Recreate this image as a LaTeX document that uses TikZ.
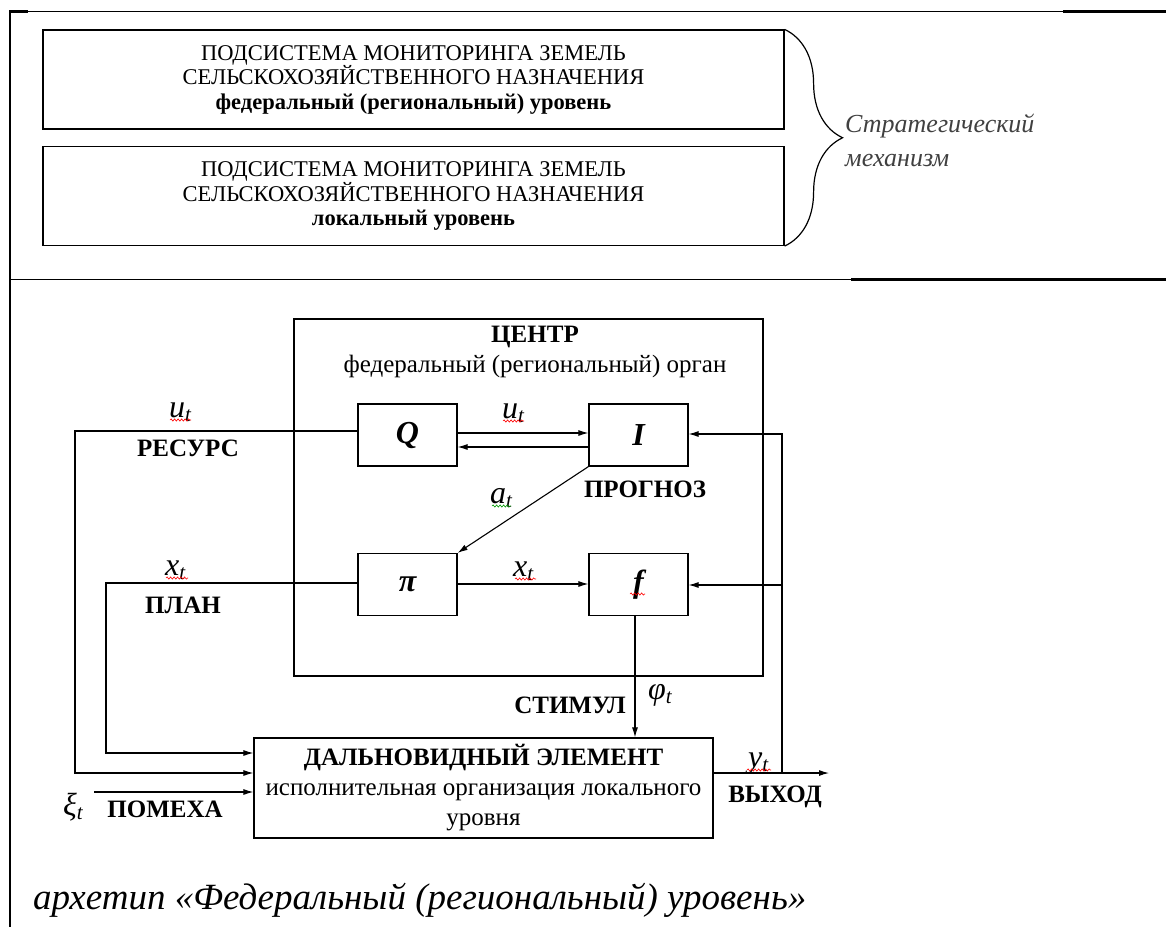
\documentclass[tikz,border=0pt]{standalone}
\usepackage{fontspec}
\setmainfont{Liberation Serif}
\usetikzlibrary{arrows.meta,decorations.pathreplacing,decorations.pathmorphing}

\newcommand{\fsz}[2]{\fontsize{#1}{#2}\selectfont}
% letter with subscript t
\newcommand{\vart}[1]{\fsz{32}{32}\textit{#1}\raisebox{-0.3ex}{\fsz{21}{21}\textit{t}}}

\tikzset{
  blk/.style={draw, line width=1.2pt, inner sep=0pt},
  subbox/.style={blk, minimum width=741, minimum height=99, align=center, font=\fsz{22.5}{24.5}},
  opbox/.style={blk, minimum width=99, minimum height=62, font=\fsz{32}{32}\bfseries\itshape},
  tag/.style={font=\fsz{25}{25}\bfseries, inner sep=0pt},
  lab/.style={anchor=base west, inner sep=0pt},
  conn/.style={line width=1.1pt},
  arr/.style={conn, -{Latex[length=10pt,width=6pt]}},
  squig/.style={decorate, decoration={snake, amplitude=1.1pt, segment length=3.5pt}, line width=0.6pt},
}

\begin{document}
\begin{tikzpicture}[x=1pt, y=-1pt]
  \useasboundingbox (0,0) rectangle (1166,927);

  % table borders
  \draw[line width=1pt] (10,11) -- (1166,11);
  \draw[line width=3pt] (9,11) -- (28,11);
  \draw[line width=3pt] (1063,11) -- (1166,11);
  \draw[line width=2pt] (10,10) -- (10,927);
  \draw[line width=1pt] (10,279) -- (851,279);
  \draw[line width=3pt] (851,279) -- (1166,279);

  % strategic level
  \node[subbox] (sub1) at (413.5,79.5) {ПОДСИСТЕМА МОНИТОРИНГА ЗЕМЕЛЬ\\СЕЛЬСКОХОЗЯЙСТВЕННОГО НАЗНАЧЕНИЯ\\\textbf{федеральный (региональный) уровень}};
  \node[subbox] (sub2) at (413.5,196) {ПОДСИСТЕМА МОНИТОРИНГА ЗЕМЕЛЬ\\СЕЛЬСКОХОЗЯЙСТВЕННОГО НАЗНАЧЕНИЯ\\\textbf{локальный уровень}};
  \draw[line width=1.2pt, decorate, decoration={brace, amplitude=58pt}] (sub1.north east) -- (sub2.south east);
  \node[anchor=west, align=left, inner sep=0pt, text=black!75, font=\fsz{26}{34}\itshape] (strat) at (845,140) {Стратегический\\механизм};

  % centre
  \node[blk, minimum width=469, minimum height=357] (centr) at (528.5,497.5) {};
  \node[align=center, inner sep=0pt, font=\fsz{25}{30}] (centrt) at (535,352) {\textbf{ЦЕНТР}\\федеральный (региональный) орган};
  \node[opbox] (q) at (407.5,435) {Q};
  \node[opbox] (ii) at (638.5,435) {I};
  \node[opbox] (pi) at (407.5,584.5) {π};
  \node[opbox] (f) at (638.5,584.5) {f};

  % element
  \node[blk, minimum width=459, minimum height=100, align=center, font=\fsz{25}{30}] (elem) at (483.5,788)
    {\textbf{ДАЛЬНОВИДНЫЙ ЭЛЕМЕНТ}\\исполнительная организация локального\\уровня};

  \coordinate (res) at (75,431);
  \coordinate (pln) at (106,583);
  \coordinate (noise) at (94,792);
  \coordinate (out) at (829,773);
  \coordinate (fb) at (782,773);

  % connectors
  \draw[arr] (q.east |- 0,433) -- (ii.west |- 0,433);
  \draw[arr] (ii.west |- 0,447) -- (q.east |- 0,447);
  \draw[arr] (ii.south west) -- (pi.north east);
  \draw[arr] (pi.east |- 0,584) -- (f.west |- 0,584);
  \draw[arr] (f.south -| 635,0) -- (elem.north -| 635,0);
  \draw[arr] (q.west |- res) -- (res) -- (res |- 0,773) -- (elem.west |- 0,773);
  \draw[arr] (pi.west |- pln) -- (pln) -- (pln |- 0,753) -- (elem.west |- 0,753);
  \draw[arr] (noise) -- (elem.west |- noise);
  \draw[arr] (elem.east |- out) -- (out);
  \draw[arr] (fb) -- (fb |- 0,434) -- (ii.east |- 0,434);
  \draw[arr] (fb |- 0,585) -- (f.east |- 0,585);

  % labels
  \node[lab] (ut1) at (169,417) {\vart{u}};
  \node[lab] (ut2) at (502,418) {\vart{u}};
  \node[lab] (at) at (490,503) {\vart{a}};
  \node[lab] (xt1) at (165,575) {\vart{x}};
  \node[lab] (xt2) at (513,576) {\vart{x}};
  \node[lab] (yt) at (748,767) {\vart{y}};
  \node[lab] (phit) at (648,699) {\vart{φ}};
  \node[lab] (xit) at (63,815) {\vart{ξ}};
  \node[tag] (resl) at (188,448) {РЕСУРС};
  \node[tag] (plnl) at (183,605) {ПЛАН};
  \node[tag] (progl) at (645,489) {ПРОГНОЗ};
  \node[tag] (stiml) at (570,705) {СТИМУЛ};
  \node[tag] (noisel) at (165,809) {ПОМЕХА};
  \node[tag] (outl) at (775,797) {ВЫХОД};

  % spell-check marks
  \draw[squig, red] (170,420) -- (191,420);
  \draw[squig, red] (503,421) -- (524,421);
  \draw[squig, green!60!black] (492,506) -- (511,506);
  \draw[squig, red] (166,578) -- (188,578);
  \draw[squig, red] (515,579) -- (536,579);
  \draw[squig, red] (630,594) -- (645,594);
  \draw[squig, red] (747,770) -- (771,770);

  \node[anchor=west, inner sep=0pt, font=\fsz{37}{37}\itshape] (capt) at (33,900) {архетип «Федеральный (региональный) уровень»};
\end{tikzpicture}
\end{document}
